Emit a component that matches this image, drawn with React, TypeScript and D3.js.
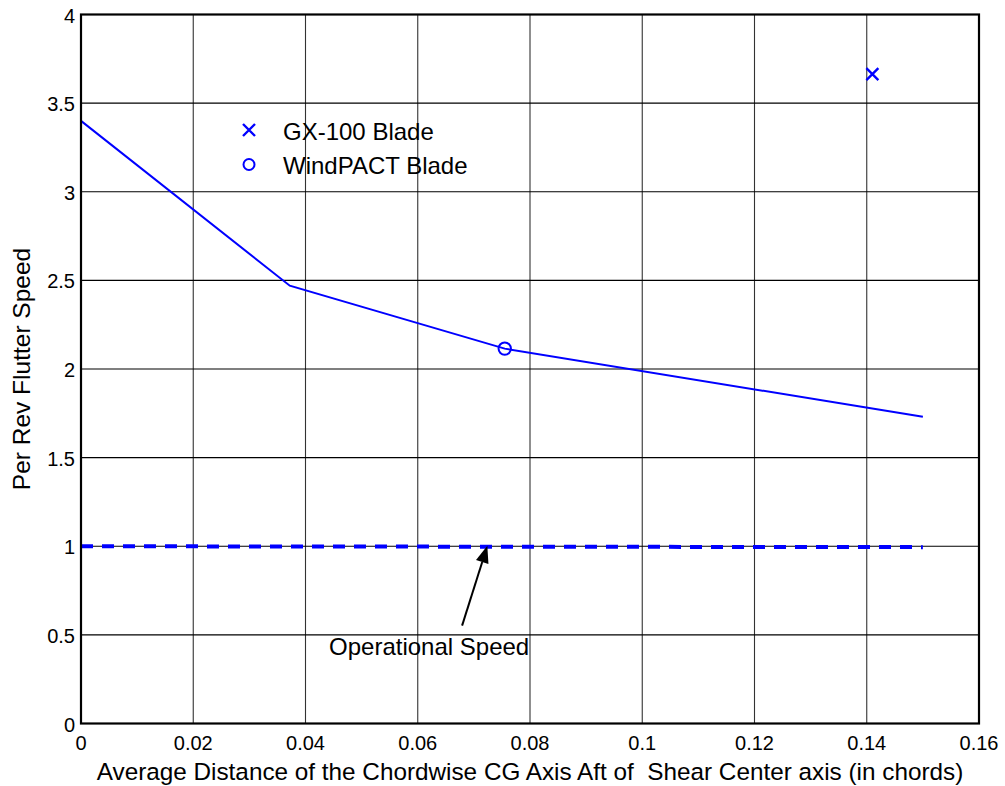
import React from "react";
import * as d3 from "d3";

// Axis ticks
const xTicks = [0, 0.02, 0.04, 0.06, 0.08, 0.1, 0.12, 0.14, 0.16];
const yTicks = [0, 0.5, 1, 1.5, 2, 2.5, 3, 3.5, 4];

// Flutter speed vs chordwise CG offset
const flutterX = [0, 0.0372, 0.0755, 0.15];
const flutterY = [3.4, 2.47, 2.115, 1.73];

// Operational speed reference (1 per rev)
const operationalX = [0, 0.15];
const operationalY = [1.0, 0.995];

// Individual blades
const gx100 = { x: 0.141, y: 3.664 };
const windpact = { x: 0.0755, y: 2.115 };

// Annotation arrow: tail → tip
const arrowTail = { x: 0.0679, y: 0.552 };
const arrowTip = { x: 0.0724, y: 1.003 };
const annotationPos = { x: 0.0442, y: 0.388 };

const W = 1005;
const H = 786;
const M = { left: 81, right: 26, top: 14.5, bottom: 62.5 };
const FONT = "'Liberation Sans', Arial, Helvetica, sans-serif";
const BLUE = "#0000ff";

export default function App() {
  const x = d3.scaleLinear().domain([0, 0.16]).range([M.left, W - M.right]);
  const y = d3.scaleLinear().domain([0, 4]).range([H - M.bottom, M.top]);

  const line = d3
    .line<[number, number]>()
    .x((d) => x(d[0]))
    .y((d) => y(d[1]));

  const flutterPts = flutterX.map((v, i) => [v, flutterY[i]] as [number, number]);
  const opPts = operationalX.map((v, i) => [v, operationalY[i]] as [number, number]);

  // arrow head geometry
  const tx = x(arrowTip.x), ty = y(arrowTip.y);
  const sx = x(arrowTail.x), sy = y(arrowTail.y);
  const ang = Math.atan2(ty - sy, tx - sx);
  const headLen = 17, headHalf = 6.5;
  const bx = tx - headLen * Math.cos(ang), by = ty - headLen * Math.sin(ang);
  const px = -Math.sin(ang) * headHalf, py = Math.cos(ang) * headHalf;
  const head = `M${tx},${ty}L${bx + px},${by + py}L${bx - px},${by - py}Z`;

  const crossSize = 6;
  const cross = (cx: number, cy: number) =>
    `M${cx - crossSize},${cy - crossSize}L${cx + crossSize},${cy + crossSize}M${cx - crossSize},${cy + crossSize}L${cx + crossSize},${cy - crossSize}`;

  const legX = 249;
  const legTextX = 283;

  return (
    <svg
      width={W}
      height={H}
      style={{ position: "absolute", left: 0, top: 0, background: "#fff" }}
      fontFamily={FONT}
    >
      <rect x={0} y={0} width={W} height={H} fill="#fff" />
      {/* grid */}
      {xTicks.map((t) => (
        <line
          key={"gx" + t}
          x1={x(t)}
          x2={x(t)}
          y1={y(0)}
          y2={y(4)}
          stroke="#333"
          strokeWidth={1.1}
        />
      ))}
      {yTicks.map((t) => (
        <line
          key={"gy" + t}
          x1={x(0)}
          x2={x(0.16)}
          y1={y(t)}
          y2={y(t)}
          stroke="#000"
          strokeWidth={1.1}
        />
      ))}

      {/* operational speed */}
      <path
        d={line(opPts) || ""}
        fill="none"
        stroke={BLUE}
        strokeWidth={4}
        strokeDasharray="12 9"
      />

      {/* flutter curve */}
      <path d={line(flutterPts) || ""} fill="none" stroke={BLUE} strokeWidth={2} />

      {/* blade markers */}
      <circle cx={x(windpact.x)} cy={y(windpact.y)} r={6.2} fill="none" stroke={BLUE} strokeWidth={2} />
      <path d={cross(x(gx100.x), y(gx100.y))} stroke={BLUE} strokeWidth={2.4} fill="none" />

      {/* axes box */}
      <rect
        x={x(0)}
        y={y(4)}
        width={x(0.16) - x(0)}
        height={y(0) - y(4)}
        fill="none"
        stroke="#000"
        strokeWidth={2.2}
      />

      {/* tick labels */}
      {xTicks.map((t) => (
        <text key={"xt" + t} x={x(t)} y={750} textAnchor="middle" fontSize={20}>
          {String(t)}
        </text>
      ))}
      {yTicks.map((t) => (
        <text key={"yt" + t} x={75} y={y(t) + 8} textAnchor="end" fontSize={20}>
          {String(t)}
        </text>
      ))}

      {/* axis titles */}
      <text x={(x(0) + x(0.16)) / 2} y={780} textAnchor="middle" fontSize={24.3}>
        Average Distance of the Chordwise CG Axis Aft of{"\u00a0 "}Shear Center axis (in chords)
      </text>
      <text
        transform={`translate(30,${(y(0) + y(4)) / 2}) rotate(-90)`}
        textAnchor="middle"
        fontSize={24.5}
      >
        Per Rev Flutter Speed
      </text>

      {/* legend */}
      <path d={cross(legX, 130)} stroke={BLUE} strokeWidth={2.4} fill="none" />
      <text x={legTextX} y={140} fontSize={24}>GX-100 Blade</text>
      <circle cx={legX} cy={164.5} r={5.5} fill="none" stroke={BLUE} strokeWidth={2} />
      <text x={legTextX} y={174} fontSize={24}>WindPACT Blade</text>

      {/* annotation */}
      <line x1={sx} y1={sy} x2={bx} y2={by} stroke="#000" strokeWidth={2} />
      <path d={head} fill="#000" />
      <text x={x(annotationPos.x)} y={y(annotationPos.y)} fontSize={24}>
        Operational Speed
      </text>
    </svg>
  );
}
